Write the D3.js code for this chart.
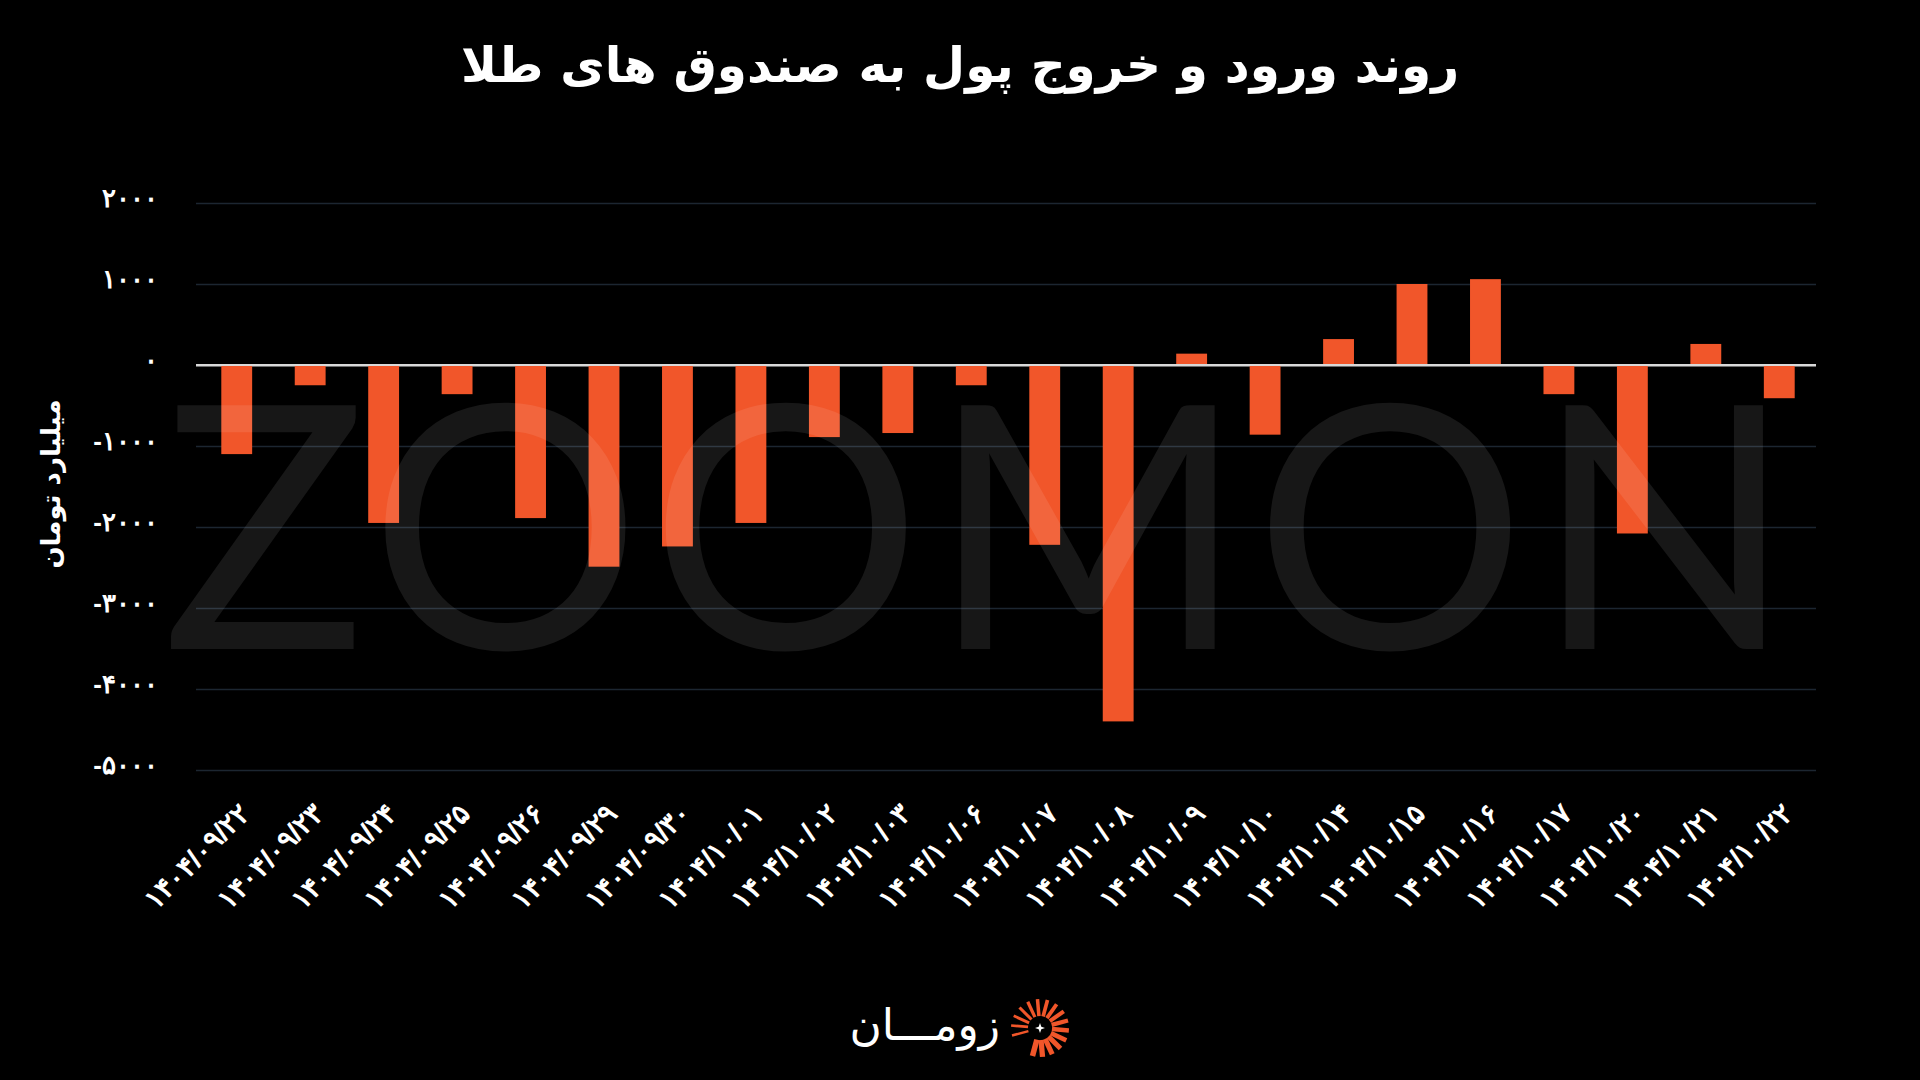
<!DOCTYPE html>
<html>
<head>
<meta charset="utf-8">
<script src="https://cdn.jsdelivr.net/npm/d3@7"></script>
<style>
  html, body { margin: 0; padding: 0; background: #000; }
  svg { display: block; }
</style>
</head>
<body>
<div class="content"></div>
<script>
const w = 1920;
const h = 1080;

// data
const dates = ['۱۴۰۴/۰۹/۲۲', '۱۴۰۴/۰۹/۲۳', '۱۴۰۴/۰۹/۲۴', '۱۴۰۴/۰۹/۲۵', '۱۴۰۴/۰۹/۲۶', '۱۴۰۴/۰۹/۲۹',
	'۱۴۰۴/۰۹/۳۰', '۱۴۰۴/۱۰/۰۱', '۱۴۰۴/۱۰/۰۲', '۱۴۰۴/۱۰/۰۳', '۱۴۰۴/۱۰/۰۶', '۱۴۰۴/۱۰/۰۷',
	'۱۴۰۴/۱۰/۰۸', '۱۴۰۴/۱۰/۰۹', '۱۴۰۴/۱۰/۱۰', '۱۴۰۴/۱۰/۱۴', '۱۴۰۴/۱۰/۱۵', '۱۴۰۴/۱۰/۱۶',
	'۱۴۰۴/۱۰/۱۷', '۱۴۰۴/۱۰/۲۰', '۱۴۰۴/۱۰/۲۱', '۱۴۰۴/۱۰/۲۲'];
const flows = [-1100, -250, -1950, -360, -1890, -2490, -2240, -1950, -890, -840, -250, -2220,
	-4400, 140, -860, 320, 1000, 1060, -360, -2080, 260, -410];
const yTicks = [2000, 1000, 0, -1000, -2000, -3000, -4000, -5000];

const title = 'روند ورود و خروج پول به صندوق های طلا';
const yTitle = 'میلیارد تومان';

const toFa = (n) => String(n).replace(/\d/g, (c) => '۰۱۲۳۴۵۶۷۸۹'[c]);

const svg = d3.select('.content').append('svg')
	.attr('width', w)
	.attr('height', h)
	.style('font-family', "'DejaVu Sans', sans-serif");

svg.append('rect')
	.attr('width', w)
	.attr('height', h)
	.attr('fill', '#000');

const left = 196;
const right = 1816;

const x = d3.scaleBand()
	.domain(dates)
	.range([200, right])
	.paddingInner(0.58)
	.paddingOuter(0.29);

const y = d3.scaleLinear()
	.domain([-5000, 2000])
	.range([770, 203]);

// grid + y labels
const yAxis = svg.append('g')
	.attr('transform', 'translate(' + left + ',0)')
	.call(d3.axisLeft(y)
		.tickValues(yTicks)
		.tickSize(-(right - left))
		.tickPadding(38)
		.tickFormat((d) => toFa(d)));

yAxis.select('.domain').remove();
yAxis.selectAll('line')
	.attr('stroke', (d) => d === 0 ? '#d9d9d9' : '#1c2631')
	.attr('stroke-width', (d) => d === 0 ? 2 : 1.5);
yAxis.selectAll('text')
	.attr('fill', '#fff')
	.attr('font-size', 26)
	.attr('font-weight', 'bold')
	.attr('letter-spacing', 1.5)
	.attr('dy', '0.12em');

// bars
svg.append('g')
	.selectAll('rect')
	.data(flows)
	.enter()
	.append('rect')
	.attr('x', (d, i) => x(dates[i]))
	.attr('y', (d) => y(Math.max(0, d)))
	.attr('width', x.bandwidth())
	.attr('height', (d) => Math.abs(y(d) - y(0)))
	.attr('fill', '#f1562a');

// zero line on top of bars
svg.append('line')
	.attr('x1', left)
	.attr('x2', right)
	.attr('y1', y(0))
	.attr('y2', y(0))
	.attr('stroke', '#d9d9d9')
	.attr('stroke-width', 2);

// watermark
svg.append('text')
	.attr('x', 162)
	.attr('y', 649)
	.attr('textLength', 1632)
	.attr('lengthAdjust', 'spacing')
	.attr('font-family', 'Lato, sans-serif')
	.attr('font-weight', 400)
	.attr('font-size', 340)
	.attr('fill', '#fff')
	.attr('fill-opacity', 0.09)
	.text('ZOOMON');

// x labels
const xAxis = svg.append('g')
	.attr('transform', 'translate(0,' + y(-5000) + ')')
	.call(d3.axisBottom(x).tickSize(0));

xAxis.select('.domain').remove();
xAxis.selectAll('text')
	.attr('fill', '#fff')
	.attr('font-size', 28)
	.attr('font-weight', 'bold')
	.attr('letter-spacing', 1)
	.attr('text-anchor', 'end')
	.attr('y', 0)
	.attr('dy', '0.35em')
	.attr('transform', 'translate(8,38) rotate(-45)');

// title
svg.append('text')
	.attr('x', w / 2)
	.attr('y', 82)
	.attr('text-anchor', 'middle')
	.attr('fill', '#fff')
	.attr('font-size', 48.5)
	.attr('font-weight', 'bold')
	.text(title);

// y title
svg.append('text')
	.attr('transform', 'translate(60,484) rotate(-90)')
	.attr('text-anchor', 'middle')
	.attr('fill', '#fff')
	.attr('font-size', 26)
	.attr('font-weight', 'bold')
	.text(yTitle);

// footer logo
const logo = svg.append('g')
	.attr('transform', 'translate(1040,1028)');

const rays = d3.range(16).map((i) => 255 + i * 20);
logo.selectAll('line')
	.data(rays)
	.enter()
	.append('line')
	.attr('x1', (a) => 12 * Math.sin(a * Math.PI / 180))
	.attr('y1', (a) => -12 * Math.cos(a * Math.PI / 180))
	.attr('x2', (a) => 29 * Math.sin(a * Math.PI / 180))
	.attr('y2', (a) => -29 * Math.cos(a * Math.PI / 180))
	.attr('stroke', '#f1562a')
	.attr('stroke-width', (a, i) => 2.5 + i * 0.2);

logo.append('path')
	.attr('d', 'M0,-5 L1.3,-1.3 L5,0 L1.3,1.3 L0,5 L-1.3,1.3 L-5,0 L-1.3,-1.3 Z')
	.attr('fill', '#fff');

svg.append('text')
	.attr('x', 1000)
	.attr('y', 1040)
	.attr('text-anchor', 'end')
	.attr('fill', '#fff')
	.attr('font-size', 44)
	.text('زومـــان');
</script>
</body>
</html>
